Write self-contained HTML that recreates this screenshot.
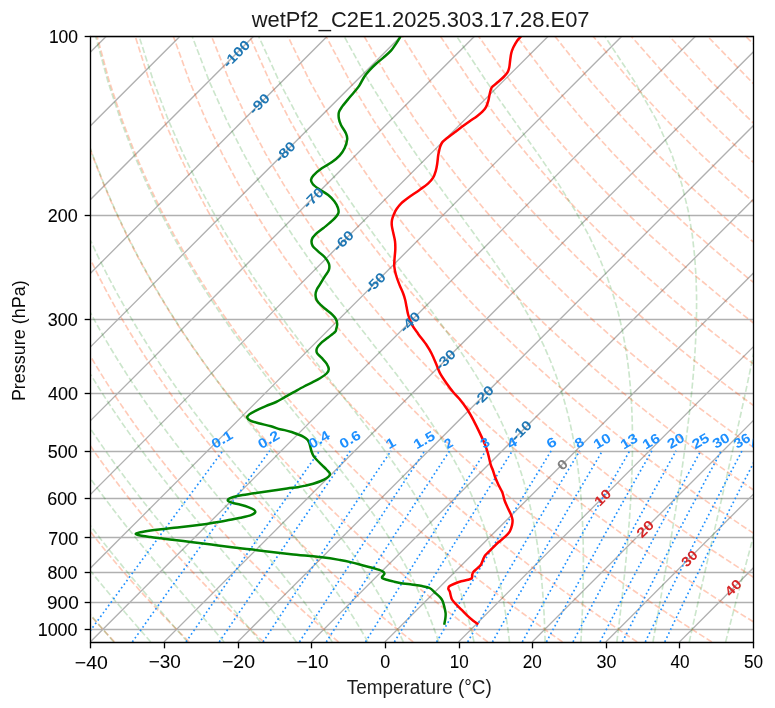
<!DOCTYPE html>
<html><head><meta charset="utf-8"><style>html,body{margin:0;padding:0;background:#fff;overflow:hidden}svg{display:block;will-change:transform}</style></head><body>
<svg width="775" height="708" viewBox="0 0 775 708">
<rect width="775" height="708" fill="#ffffff"/>
<defs><clipPath id="ax"><rect x="90.34" y="35.93" width="662.76" height="606.00"/></clipPath></defs>
<g clip-path="url(#ax)">
<line x1="90.34" y1="36.50" x2="753.10" y2="36.50" stroke="#b0b0b0" stroke-width="1.33"/>
<line x1="90.34" y1="215.50" x2="753.10" y2="215.50" stroke="#b0b0b0" stroke-width="1.33"/>
<line x1="90.34" y1="319.50" x2="753.10" y2="319.50" stroke="#b0b0b0" stroke-width="1.33"/>
<line x1="90.34" y1="393.50" x2="753.10" y2="393.50" stroke="#b0b0b0" stroke-width="1.33"/>
<line x1="90.34" y1="451.50" x2="753.10" y2="451.50" stroke="#b0b0b0" stroke-width="1.33"/>
<line x1="90.34" y1="498.50" x2="753.10" y2="498.50" stroke="#b0b0b0" stroke-width="1.33"/>
<line x1="90.34" y1="537.50" x2="753.10" y2="537.50" stroke="#b0b0b0" stroke-width="1.33"/>
<line x1="90.34" y1="572.50" x2="753.10" y2="572.50" stroke="#b0b0b0" stroke-width="1.33"/>
<line x1="90.34" y1="602.50" x2="753.10" y2="602.50" stroke="#b0b0b0" stroke-width="1.33"/>
<line x1="90.34" y1="629.50" x2="753.10" y2="629.50" stroke="#b0b0b0" stroke-width="1.33"/>
<line x1="-572.42" y1="641.93" x2="32.97" y2="35.93" stroke="#b0b0b0" stroke-width="1.33"/>
<line x1="-498.78" y1="641.93" x2="106.61" y2="35.93" stroke="#b0b0b0" stroke-width="1.33"/>
<line x1="-425.14" y1="641.93" x2="180.25" y2="35.93" stroke="#b0b0b0" stroke-width="1.33"/>
<line x1="-351.50" y1="641.93" x2="253.89" y2="35.93" stroke="#b0b0b0" stroke-width="1.33"/>
<line x1="-277.86" y1="641.93" x2="327.53" y2="35.93" stroke="#b0b0b0" stroke-width="1.33"/>
<line x1="-204.22" y1="641.93" x2="401.17" y2="35.93" stroke="#b0b0b0" stroke-width="1.33"/>
<line x1="-130.58" y1="641.93" x2="474.81" y2="35.93" stroke="#b0b0b0" stroke-width="1.33"/>
<line x1="-56.94" y1="641.93" x2="548.45" y2="35.93" stroke="#b0b0b0" stroke-width="1.33"/>
<line x1="16.70" y1="641.93" x2="622.09" y2="35.93" stroke="#b0b0b0" stroke-width="1.33"/>
<line x1="90.34" y1="641.93" x2="695.73" y2="35.93" stroke="#b0b0b0" stroke-width="1.33"/>
<line x1="163.98" y1="641.93" x2="769.37" y2="35.93" stroke="#b0b0b0" stroke-width="1.33"/>
<line x1="237.62" y1="641.93" x2="843.01" y2="35.93" stroke="#b0b0b0" stroke-width="1.33"/>
<line x1="311.26" y1="641.93" x2="916.65" y2="35.93" stroke="#b0b0b0" stroke-width="1.33"/>
<line x1="384.90" y1="641.93" x2="990.29" y2="35.93" stroke="#b0b0b0" stroke-width="1.33"/>
<line x1="458.54" y1="641.93" x2="1063.93" y2="35.93" stroke="#b0b0b0" stroke-width="1.33"/>
<line x1="532.18" y1="641.93" x2="1137.57" y2="35.93" stroke="#b0b0b0" stroke-width="1.33"/>
<line x1="605.82" y1="641.93" x2="1211.21" y2="35.93" stroke="#b0b0b0" stroke-width="1.33"/>
<line x1="679.46" y1="641.93" x2="1284.85" y2="35.93" stroke="#b0b0b0" stroke-width="1.33"/>
<line x1="753.10" y1="641.93" x2="1358.49" y2="35.93" stroke="#b0b0b0" stroke-width="1.33"/>
<path d="M114.44,641.93 L109.99,637.13 L105.51,632.23 L101.00,627.24 L96.44,622.16 L91.86,616.97 L87.23,611.67 L82.57,606.26 L77.87,600.74 L73.14,595.09 L68.36,589.32 L63.54,583.42 L58.69,577.38 L53.79,571.19 L48.85,564.85 L43.87,558.35 L38.84,551.68 L33.77,544.84 L28.66,537.81 L23.50,530.58 L18.29,523.14 L13.04,515.49 L7.74,507.59 L2.40,499.45 L-1.00,494.16" fill="none" stroke="#ff4500" stroke-opacity="0.28" stroke-width="1.67" stroke-dasharray="6.17 2.67"/>
<path d="M189.12,641.93 L184.27,637.13 L179.39,632.23 L174.46,627.24 L169.50,622.16 L164.49,616.97 L159.44,611.67 L154.35,606.26 L149.21,600.74 L144.03,595.09 L138.80,589.32 L133.53,583.42 L128.20,577.38 L122.83,571.19 L117.41,564.85 L111.93,558.35 L106.41,551.68 L100.82,544.84 L95.19,537.81 L89.50,530.58 L83.75,523.14 L77.95,515.49 L72.08,507.59 L66.16,499.45 L60.18,491.05 L54.13,482.35 L48.02,473.36 L41.85,464.04 L35.62,454.37 L29.32,444.33 L22.96,433.87 L16.53,422.98 L10.04,411.60 L3.50,399.70 L-1.00,391.20" fill="none" stroke="#ff4500" stroke-opacity="0.28" stroke-width="1.67" stroke-dasharray="6.17 2.67"/>
<path d="M263.79,641.93 L258.55,637.13 L253.26,632.23 L247.93,627.24 L242.55,622.16 L237.13,616.97 L231.65,611.67 L226.13,606.26 L220.55,600.74 L214.93,595.09 L209.25,589.32 L203.51,583.42 L197.72,577.38 L191.87,571.19 L185.96,564.85 L180.00,558.35 L173.97,551.68 L167.88,544.84 L161.72,537.81 L155.50,530.58 L149.21,523.14 L142.85,515.49 L136.42,507.59 L129.92,499.45 L123.35,491.05 L116.70,482.35 L109.97,473.36 L103.16,464.04 L96.27,454.37 L89.30,444.33 L82.25,433.87 L75.11,422.98 L67.89,411.60 L60.59,399.70 L53.20,387.22 L45.73,374.11 L38.18,360.29 L30.55,345.69 L22.86,330.22 L15.10,313.75 L7.30,296.16 L-0.52,277.28 L-1.00,276.04" fill="none" stroke="#ff4500" stroke-opacity="0.28" stroke-width="1.67" stroke-dasharray="6.17 2.67"/>
<path d="M338.46,641.93 L332.83,637.13 L327.14,632.23 L321.40,627.24 L315.61,622.16 L309.76,616.97 L303.86,611.67 L297.91,606.26 L291.89,600.74 L285.82,595.09 L279.69,589.32 L273.49,583.42 L267.24,577.38 L260.91,571.19 L254.52,564.85 L248.06,558.35 L241.53,551.68 L234.93,544.84 L228.26,537.81 L221.50,530.58 L214.67,523.14 L207.76,515.49 L200.77,507.59 L193.69,499.45 L186.52,491.05 L179.26,482.35 L171.91,473.36 L164.47,464.04 L156.92,454.37 L149.28,444.33 L141.54,433.87 L133.69,422.98 L125.74,411.60 L117.67,399.70 L109.50,387.22 L101.22,374.11 L92.82,360.29 L84.32,345.69 L75.71,330.22 L67.00,313.75 L58.20,296.16 L49.32,277.28 L40.38,256.91 L31.42,234.79 L22.47,210.59 L13.61,183.88 L4.95,154.08 L-1.00,129.90" fill="none" stroke="#ff4500" stroke-opacity="0.28" stroke-width="1.67" stroke-dasharray="6.17 2.67"/>
<path d="M413.14,641.93 L407.10,637.13 L401.01,632.23 L394.87,627.24 L388.66,622.16 L382.40,616.97 L376.07,611.67 L369.69,606.26 L363.23,600.74 L356.72,595.09 L350.13,589.32 L343.48,583.42 L336.75,577.38 L329.95,571.19 L323.08,564.85 L316.13,558.35 L309.10,551.68 L301.99,544.84 L294.79,537.81 L287.50,530.58 L280.13,523.14 L272.67,515.49 L265.11,507.59 L257.45,499.45 L249.69,491.05 L241.83,482.35 L233.86,473.36 L225.78,464.04 L217.58,454.37 L209.27,444.33 L200.83,433.87 L192.27,422.98 L183.58,411.60 L174.76,399.70 L165.80,387.22 L156.71,374.11 L147.47,360.29 L138.09,345.69 L128.57,330.22 L118.90,313.75 L109.10,296.16 L99.16,277.28 L89.11,256.91 L78.97,234.79 L68.76,210.59 L58.55,183.88 L48.43,154.08 L38.54,120.38 L29.14,81.60 L20.66,35.93" fill="none" stroke="#ff4500" stroke-opacity="0.28" stroke-width="1.67" stroke-dasharray="6.17 2.67"/>
<path d="M487.81,641.93 L481.38,637.13 L474.89,632.23 L468.33,627.24 L461.72,622.16 L455.03,616.97 L448.28,611.67 L441.46,606.26 L434.58,600.74 L427.61,595.09 L420.58,589.32 L413.46,583.42 L406.27,577.38 L399.00,571.19 L391.64,564.85 L384.19,558.35 L376.66,551.68 L369.04,544.84 L361.32,537.81 L353.51,530.58 L345.59,523.14 L337.57,515.49 L329.45,507.59 L321.21,499.45 L312.86,491.05 L304.39,482.35 L295.80,473.36 L287.08,464.04 L278.23,454.37 L269.25,444.33 L260.12,433.87 L250.85,422.98 L241.43,411.60 L231.85,399.70 L222.11,387.22 L212.20,374.11 L202.12,360.29 L191.86,345.69 L181.42,330.22 L170.80,313.75 L160.00,296.16 L149.01,277.28 L137.84,256.91 L126.52,234.79 L115.05,210.59 L103.49,183.88 L91.91,154.08 L80.43,120.38 L69.26,81.60 L58.80,35.93" fill="none" stroke="#ff4500" stroke-opacity="0.28" stroke-width="1.67" stroke-dasharray="6.17 2.67"/>
<path d="M562.48,641.93 L555.66,637.13 L548.76,632.23 L541.80,627.24 L534.77,622.16 L527.67,616.97 L520.49,611.67 L513.24,606.26 L505.92,600.74 L498.51,595.09 L491.02,589.32 L483.45,583.42 L475.79,577.38 L468.04,571.19 L460.20,564.85 L452.26,558.35 L444.23,551.68 L436.09,544.84 L427.85,537.81 L419.51,530.58 L411.05,523.14 L402.48,515.49 L393.79,507.59 L384.98,499.45 L376.03,491.05 L366.96,482.35 L357.75,473.36 L348.39,464.04 L338.89,454.37 L329.23,444.33 L319.42,433.87 L309.43,422.98 L299.27,411.60 L288.94,399.70 L278.41,387.22 L267.69,374.11 L256.77,360.29 L245.63,345.69 L234.28,330.22 L222.70,313.75 L210.89,296.16 L198.85,277.28 L186.57,256.91 L174.06,234.79 L161.34,210.59 L148.43,183.88 L135.39,154.08 L122.31,120.38 L109.38,81.60 L96.94,35.93" fill="none" stroke="#ff4500" stroke-opacity="0.28" stroke-width="1.67" stroke-dasharray="6.17 2.67"/>
<path d="M637.16,641.93 L629.93,637.13 L622.64,632.23 L615.27,627.24 L607.83,622.16 L600.30,616.97 L592.70,611.67 L585.02,606.26 L577.26,600.74 L569.40,595.09 L561.46,589.32 L553.43,583.42 L545.30,577.38 L537.08,571.19 L528.75,564.85 L520.33,558.35 L511.79,551.68 L503.15,544.84 L494.39,537.81 L485.51,530.58 L476.51,523.14 L467.39,515.49 L458.13,507.59 L448.74,499.45 L439.20,491.05 L429.52,482.35 L419.69,473.36 L409.70,464.04 L399.54,454.37 L389.22,444.33 L378.71,433.87 L368.01,422.98 L357.12,411.60 L346.02,399.70 L334.71,387.22 L323.18,374.11 L311.41,360.29 L299.40,345.69 L287.13,330.22 L274.60,313.75 L261.79,296.16 L248.69,277.28 L235.30,256.91 L221.61,234.79 L207.63,210.59 L193.37,183.88 L178.87,154.08 L164.20,120.38 L149.51,81.60 L135.08,35.93" fill="none" stroke="#ff4500" stroke-opacity="0.28" stroke-width="1.67" stroke-dasharray="6.17 2.67"/>
<path d="M711.83,641.93 L704.21,637.13 L696.51,632.23 L688.74,627.24 L680.88,622.16 L672.94,616.97 L664.91,611.67 L656.80,606.26 L648.60,600.74 L640.30,595.09 L631.90,589.32 L623.41,583.42 L614.82,577.38 L606.12,571.19 L597.31,564.85 L588.39,558.35 L579.36,551.68 L570.20,544.84 L560.92,537.81 L551.51,530.58 L541.97,523.14 L532.29,515.49 L522.47,507.59 L512.50,499.45 L502.38,491.05 L492.09,482.35 L481.64,473.36 L471.01,464.04 L460.20,454.37 L449.20,444.33 L438.00,433.87 L426.59,422.98 L414.97,411.60 L403.11,399.70 L391.02,387.22 L378.67,374.11 L366.06,360.29 L353.17,345.69 L339.99,330.22 L326.50,313.75 L312.69,296.16 L298.54,277.28 L284.03,256.91 L269.16,234.79 L253.92,210.59 L238.31,183.88 L222.35,154.08 L206.08,120.38 L189.63,81.60 L173.22,35.93" fill="none" stroke="#ff4500" stroke-opacity="0.28" stroke-width="1.67" stroke-dasharray="6.17 2.67"/>
<path d="M776.00,635.62 L770.39,632.23 L762.21,627.24 L753.94,622.16 L745.58,616.97 L737.12,611.67 L728.58,606.26 L719.94,600.74 L711.19,595.09 L702.35,589.32 L693.40,583.42 L684.33,577.38 L675.16,571.19 L665.87,564.85 L656.46,558.35 L646.92,551.68 L637.25,544.84 L627.45,537.81 L617.51,530.58 L607.43,523.14 L597.20,515.49 L586.81,507.59 L576.26,499.45 L565.55,491.05 L554.66,482.35 L543.58,473.36 L532.32,464.04 L520.85,454.37 L509.18,444.33 L497.29,433.87 L485.17,422.98 L472.81,411.60 L460.20,399.70 L447.32,387.22 L434.16,374.11 L420.71,360.29 L406.94,345.69 L392.84,330.22 L378.40,313.75 L363.58,296.16 L348.38,277.28 L332.76,256.91 L316.71,234.79 L300.21,210.59 L283.25,183.88 L265.83,154.08 L247.97,120.38 L229.75,81.60 L211.36,35.93" fill="none" stroke="#ff4500" stroke-opacity="0.28" stroke-width="1.67" stroke-dasharray="6.17 2.67"/>
<path d="M776.00,591.31 L772.79,589.32 L763.38,583.42 L753.85,577.38 L744.20,571.19 L734.43,564.85 L724.52,558.35 L714.48,551.68 L704.31,544.84 L693.99,537.81 L683.52,530.58 L672.89,523.14 L662.11,515.49 L651.15,507.59 L640.03,499.45 L628.72,491.05 L617.22,482.35 L605.53,473.36 L593.63,464.04 L581.51,454.37 L569.16,444.33 L556.58,433.87 L543.75,422.98 L530.66,411.60 L517.29,399.70 L503.62,387.22 L489.65,374.11 L475.36,360.29 L460.71,345.69 L445.70,330.22 L430.30,313.75 L414.48,296.16 L398.22,277.28 L381.49,256.91 L364.26,234.79 L346.50,210.59 L328.19,183.88 L309.31,154.08 L289.85,120.38 L269.87,81.60 L249.51,35.93" fill="none" stroke="#ff4500" stroke-opacity="0.28" stroke-width="1.67" stroke-dasharray="6.17 2.67"/>
<path d="M776.00,547.81 L771.36,544.84 L760.52,537.81 L749.52,530.58 L738.35,523.14 L727.01,515.49 L715.50,507.59 L703.79,499.45 L691.89,491.05 L679.79,482.35 L667.47,473.36 L654.93,464.04 L642.16,454.37 L629.15,444.33 L615.87,433.87 L602.33,422.98 L588.50,411.60 L574.37,399.70 L559.93,387.22 L545.14,374.11 L530.00,360.29 L514.48,345.69 L498.55,330.22 L482.20,313.75 L465.38,296.16 L448.06,277.28 L430.22,256.91 L411.81,234.79 L392.80,210.59 L373.13,183.88 L352.79,154.08 L331.74,120.38 L310.00,81.60 L287.65,35.93" fill="none" stroke="#ff4500" stroke-opacity="0.28" stroke-width="1.67" stroke-dasharray="6.17 2.67"/>
<path d="M776.00,505.05 L767.55,499.45 L755.06,491.05 L742.35,482.35 L729.42,473.36 L716.24,464.04 L702.82,454.37 L689.13,444.33 L675.17,433.87 L660.91,422.98 L646.35,411.60 L631.46,399.70 L616.23,387.22 L600.63,374.11 L584.65,360.29 L568.25,345.69 L551.41,330.22 L534.10,313.75 L516.27,296.16 L497.91,277.28 L478.95,256.91 L459.36,234.79 L439.09,210.59 L418.07,183.88 L396.27,154.08 L373.62,120.38 L350.12,81.60 L325.79,35.93" fill="none" stroke="#ff4500" stroke-opacity="0.28" stroke-width="1.67" stroke-dasharray="6.17 2.67"/>
<path d="M776.00,462.98 L763.47,454.37 L749.11,444.33 L734.46,433.87 L719.49,422.98 L704.20,411.60 L688.55,399.70 L672.53,387.22 L656.13,374.11 L639.30,360.29 L622.02,345.69 L604.27,330.22 L586.00,313.75 L567.17,296.16 L547.75,277.28 L527.68,256.91 L506.91,234.79 L485.38,210.59 L463.01,183.88 L439.75,154.08 L415.51,120.38 L390.24,81.60 L363.93,35.93" fill="none" stroke="#ff4500" stroke-opacity="0.28" stroke-width="1.67" stroke-dasharray="6.17 2.67"/>
<path d="M776.00,421.51 L762.04,411.60 L745.64,399.70 L728.84,387.22 L711.62,374.11 L693.94,360.29 L675.79,345.69 L657.12,330.22 L637.89,313.75 L618.07,296.16 L597.59,277.28 L576.41,256.91 L554.46,234.79 L531.67,210.59 L507.95,183.88 L483.23,154.08 L457.39,120.38 L430.36,81.60 L402.07,35.93" fill="none" stroke="#ff4500" stroke-opacity="0.28" stroke-width="1.67" stroke-dasharray="6.17 2.67"/>
<path d="M776.00,380.57 L767.11,374.11 L748.59,360.29 L729.56,345.69 L709.98,330.22 L689.79,313.75 L668.97,296.16 L647.44,277.28 L625.14,256.91 L602.01,234.79 L577.96,210.59 L552.89,183.88 L526.71,154.08 L499.28,120.38 L470.49,81.60 L440.21,35.93" fill="none" stroke="#ff4500" stroke-opacity="0.28" stroke-width="1.67" stroke-dasharray="6.17 2.67"/>
<path d="M776.00,340.16 L762.83,330.22 L741.69,313.75 L719.86,296.16 L697.28,277.28 L673.87,256.91 L649.56,234.79 L624.25,210.59 L597.83,183.88 L570.19,154.08 L541.17,120.38 L510.61,81.60 L478.36,35.93" fill="none" stroke="#ff4500" stroke-opacity="0.28" stroke-width="1.67" stroke-dasharray="6.17 2.67"/>
<path d="M776.00,300.20 L770.76,296.16 L747.12,277.28 L722.60,256.91 L697.11,234.79 L670.54,210.59 L642.77,183.88 L613.67,154.08 L583.05,120.38 L550.73,81.60 L516.50,35.93" fill="none" stroke="#ff4500" stroke-opacity="0.28" stroke-width="1.67" stroke-dasharray="6.17 2.67"/>
<path d="M776.00,260.62 L771.33,256.91 L744.66,234.79 L716.83,210.59 L687.71,183.88 L657.15,154.08 L624.94,120.38 L590.85,81.60 L554.64,35.93" fill="none" stroke="#ff4500" stroke-opacity="0.28" stroke-width="1.67" stroke-dasharray="6.17 2.67"/>
<path d="M776.00,221.31 L763.12,210.59 L732.65,183.88 L700.63,154.08 L666.82,120.38 L630.98,81.60 L592.78,35.93" fill="none" stroke="#ff4500" stroke-opacity="0.28" stroke-width="1.67" stroke-dasharray="6.17 2.67"/>
<path d="M776.00,182.47 L744.11,154.08 L708.71,120.38 L671.10,81.60 L630.92,35.93" fill="none" stroke="#ff4500" stroke-opacity="0.28" stroke-width="1.67" stroke-dasharray="6.17 2.67"/>
<path d="M776.00,143.53 L750.59,120.38 L711.22,81.60 L669.06,35.93" fill="none" stroke="#ff4500" stroke-opacity="0.28" stroke-width="1.67" stroke-dasharray="6.17 2.67"/>
<path d="M776.00,104.85 L751.34,81.60 L707.21,35.93" fill="none" stroke="#ff4500" stroke-opacity="0.28" stroke-width="1.67" stroke-dasharray="6.17 2.67"/>
<path d="M776.00,66.28 L745.35,35.93" fill="none" stroke="#ff4500" stroke-opacity="0.28" stroke-width="1.67" stroke-dasharray="6.17 2.67"/>
<path d="M0,0" fill="none" stroke="#ff4500" stroke-opacity="0.28" stroke-width="1.67" stroke-dasharray="6.17 2.67"/>
<path d="M0,0" fill="none" stroke="#ff4500" stroke-opacity="0.28" stroke-width="1.67" stroke-dasharray="6.17 2.67"/>
<path d="M0,0" fill="none" stroke="#ff4500" stroke-opacity="0.28" stroke-width="1.67" stroke-dasharray="6.17 2.67"/>
<path d="M0,0" fill="none" stroke="#ff4500" stroke-opacity="0.28" stroke-width="1.67" stroke-dasharray="6.17 2.67"/>
<path d="M0,0" fill="none" stroke="#ff4500" stroke-opacity="0.28" stroke-width="1.67" stroke-dasharray="6.17 2.67"/>
<path d="M0,0" fill="none" stroke="#ff4500" stroke-opacity="0.28" stroke-width="1.67" stroke-dasharray="6.17 2.67"/>
<path d="M113.78,641.93 L109.61,637.13 L105.38,632.23 L101.09,627.24 L96.75,622.16 L92.36,616.97 L87.91,611.67 L83.40,606.26 L78.85,600.74 L74.23,595.09 L69.57,589.32 L64.85,583.42 L60.08,577.38 L55.26,571.19 L50.38,564.85 L45.46,558.35 L40.48,551.68 L35.44,544.84 L30.36,537.81 L25.22,530.58 L20.03,523.14 L14.79,515.49 L9.50,507.59 L4.16,499.45 L-1.00,491.41" fill="none" stroke="#008000" stroke-opacity="0.2" stroke-width="1.67" stroke-dasharray="6.17 2.67"/>
<path d="M150.73,641.93 L146.52,637.13 L142.23,632.23 L137.88,627.24 L133.46,622.16 L128.98,616.97 L124.42,611.67 L119.80,606.26 L115.12,600.74 L110.37,595.09 L105.55,589.32 L100.67,583.42 L95.73,577.38 L90.72,571.19 L85.65,564.85 L80.51,558.35 L75.32,551.68 L70.06,544.84 L64.74,537.81 L59.36,530.58 L53.91,523.14 L48.41,515.49 L42.84,507.59 L37.22,499.45 L31.53,491.05 L25.78,482.35 L19.97,473.36 L14.10,464.04 L8.18,454.37 L2.19,444.33 L-1.00,438.80" fill="none" stroke="#008000" stroke-opacity="0.2" stroke-width="1.67" stroke-dasharray="6.17 2.67"/>
<path d="M187.52,641.93 L183.33,637.13 L179.05,632.23 L174.70,627.24 L170.26,622.16 L165.74,616.97 L161.14,611.67 L156.45,606.26 L151.69,600.74 L146.84,595.09 L141.92,589.32 L136.92,583.42 L131.83,577.38 L126.67,571.19 L121.44,564.85 L116.12,558.35 L110.73,551.68 L105.27,544.84 L99.73,537.81 L94.12,530.58 L88.43,523.14 L82.67,515.49 L76.84,507.59 L70.93,499.45 L64.96,491.05 L58.91,482.35 L52.79,473.36 L46.59,464.04 L40.33,454.37 L34.00,444.33 L27.60,433.87 L21.13,422.98 L14.59,411.60 L7.99,399.70 L1.33,387.22 L-1.00,382.67" fill="none" stroke="#008000" stroke-opacity="0.2" stroke-width="1.67" stroke-dasharray="6.17 2.67"/>
<path d="M224.09,641.93 L220.01,637.13 L215.83,632.23 L211.55,627.24 L207.17,622.16 L202.69,616.97 L198.12,611.67 L193.44,606.26 L188.67,600.74 L183.79,595.09 L178.82,589.32 L173.75,583.42 L168.59,577.38 L163.32,571.19 L157.97,564.85 L152.51,558.35 L146.97,551.68 L141.33,544.84 L135.60,537.81 L129.78,530.58 L123.87,523.14 L117.87,515.49 L111.79,507.59 L105.62,499.45 L99.36,491.05 L93.01,482.35 L86.58,473.36 L80.06,464.04 L73.46,454.37 L66.78,444.33 L60.01,433.87 L53.16,422.98 L46.23,411.60 L39.23,399.70 L32.14,387.22 L24.98,374.11 L17.75,360.29 L10.45,345.69 L3.10,330.22 L-1.00,321.08" fill="none" stroke="#008000" stroke-opacity="0.2" stroke-width="1.67" stroke-dasharray="6.17 2.67"/>
<path d="M260.41,641.93 L256.53,637.13 L252.54,632.23 L248.44,627.24 L244.22,622.16 L239.88,616.97 L235.43,611.67 L230.85,606.26 L226.16,600.74 L221.35,595.09 L216.42,589.32 L211.36,583.42 L206.19,577.38 L200.90,571.19 L195.49,564.85 L189.96,558.35 L184.32,551.68 L178.56,544.84 L172.69,537.81 L166.71,530.58 L160.61,523.14 L154.41,515.49 L148.09,507.59 L141.67,499.45 L135.15,491.05 L128.52,482.35 L121.79,473.36 L114.95,464.04 L108.01,454.37 L100.98,444.33 L93.84,433.87 L86.60,422.98 L79.27,411.60 L71.84,399.70 L64.31,387.22 L56.69,374.11 L48.98,360.29 L41.19,345.69 L33.32,330.22 L25.38,313.75 L17.38,296.16 L9.35,277.28 L1.30,256.91 L-1.00,250.56" fill="none" stroke="#008000" stroke-opacity="0.2" stroke-width="1.67" stroke-dasharray="6.17 2.67"/>
<path d="M296.46,641.93 L292.89,637.13 L289.20,632.23 L285.38,627.24 L281.43,622.16 L277.34,616.97 L273.13,611.67 L268.77,606.26 L264.28,600.74 L259.64,595.09 L254.86,589.32 L249.94,583.42 L244.87,577.38 L239.65,571.19 L234.29,564.85 L228.79,558.35 L223.14,551.68 L217.34,544.84 L211.41,537.81 L205.33,530.58 L199.11,523.14 L192.76,515.49 L186.27,507.59 L179.64,499.45 L172.88,491.05 L165.99,482.35 L158.98,473.36 L151.83,464.04 L144.57,454.37 L137.18,444.33 L129.67,433.87 L122.03,422.98 L114.28,411.60 L106.41,399.70 L98.43,387.22 L90.33,374.11 L82.12,360.29 L73.80,345.69 L65.38,330.22 L56.86,313.75 L48.26,296.16 L39.59,277.28 L30.87,256.91 L22.13,234.79 L13.43,210.59 L4.84,183.88 L-1.00,163.12" fill="none" stroke="#008000" stroke-opacity="0.2" stroke-width="1.67" stroke-dasharray="6.17 2.67"/>
<path d="M332.26,641.93 L329.09,637.13 L325.79,632.23 L322.36,627.24 L318.79,622.16 L315.09,616.97 L311.23,611.67 L307.23,606.26 L303.07,600.74 L298.75,595.09 L294.26,589.32 L289.61,583.42 L284.79,577.38 L279.80,571.19 L274.64,564.85 L269.29,558.35 L263.77,551.68 L258.07,544.84 L252.19,537.81 L246.13,530.58 L239.90,523.14 L233.49,515.49 L226.90,507.59 L220.15,499.45 L213.22,491.05 L206.13,482.35 L198.88,473.36 L191.46,464.04 L183.89,454.37 L176.16,444.33 L168.28,433.87 L160.25,422.98 L152.08,411.60 L143.76,399.70 L135.29,387.22 L126.69,374.11 L117.94,360.29 L109.06,345.69 L100.05,330.22 L90.91,313.75 L81.66,296.16 L72.29,277.28 L62.84,256.91 L53.34,234.79 L43.81,210.59 L34.33,183.88 L25.00,154.08 L15.97,120.38 L7.51,81.60 L0.10,35.93" fill="none" stroke="#008000" stroke-opacity="0.2" stroke-width="1.67" stroke-dasharray="6.17 2.67"/>
<path d="M367.84,641.93 L365.15,637.13 L362.33,632.23 L359.39,627.24 L356.31,622.16 L353.09,616.97 L349.72,611.67 L346.20,606.26 L342.51,600.74 L338.66,595.09 L334.64,589.32 L330.43,583.42 L326.03,577.38 L321.45,571.19 L316.66,564.85 L311.66,558.35 L306.46,551.68 L301.04,544.84 L295.40,537.81 L289.54,530.58 L283.47,523.14 L277.16,515.49 L270.64,507.59 L263.89,499.45 L256.93,491.05 L249.75,482.35 L242.35,473.36 L234.74,464.04 L226.93,454.37 L218.91,444.33 L210.70,433.87 L202.29,422.98 L193.70,411.60 L184.92,399.70 L175.96,387.22 L166.82,374.11 L157.50,360.29 L148.02,345.69 L138.36,330.22 L128.55,313.75 L118.57,296.16 L108.45,277.28 L98.20,256.91 L87.84,234.79 L77.40,210.59 L66.94,183.88 L56.54,154.08 L46.36,120.38 L36.63,81.60 L27.77,35.93" fill="none" stroke="#008000" stroke-opacity="0.2" stroke-width="1.67" stroke-dasharray="6.17 2.67"/>
<path d="M403.27,641.93 L401.11,637.13 L398.83,632.23 L396.44,627.24 L393.93,622.16 L391.29,616.97 L388.51,611.67 L385.58,606.26 L382.50,600.74 L379.26,595.09 L375.84,589.32 L372.25,583.42 L368.46,577.38 L364.47,571.19 L360.27,564.85 L355.85,558.35 L351.20,551.68 L346.30,544.84 L341.16,537.81 L335.76,530.58 L330.10,523.14 L324.16,515.49 L317.94,507.59 L311.45,499.45 L304.67,491.05 L297.61,482.35 L290.27,473.36 L282.64,464.04 L274.74,454.37 L266.56,444.33 L258.12,433.87 L249.41,422.98 L240.45,411.60 L231.24,399.70 L221.79,387.22 L212.11,374.11 L202.19,360.29 L192.06,345.69 L181.70,330.22 L171.14,313.75 L160.37,296.16 L149.40,277.28 L138.24,256.91 L126.91,234.79 L115.44,210.59 L103.87,183.88 L92.28,154.08 L80.78,120.38 L69.60,81.60 L59.12,35.93" fill="none" stroke="#008000" stroke-opacity="0.2" stroke-width="1.67" stroke-dasharray="6.17 2.67"/>
<path d="M438.64,641.93 L437.02,637.13 L435.31,632.23 L433.51,627.24 L431.61,622.16 L429.59,616.97 L427.46,611.67 L425.20,606.26 L422.81,600.74 L420.28,595.09 L417.59,589.32 L414.74,583.42 L411.72,577.38 L408.50,571.19 L405.09,564.85 L401.45,558.35 L397.60,551.68 L393.49,544.84 L389.13,537.81 L384.50,530.58 L379.58,523.14 L374.35,515.49 L368.80,507.59 L362.93,499.45 L356.71,491.05 L350.13,482.35 L343.20,473.36 L335.89,464.04 L328.21,454.37 L320.16,444.33 L311.74,433.87 L302.95,422.98 L293.80,411.60 L284.30,399.70 L274.46,387.22 L264.29,374.11 L253.80,360.29 L243.00,345.69 L231.90,330.22 L220.52,313.75 L208.86,296.16 L196.92,277.28 L184.73,256.91 L172.29,234.79 L159.63,210.59 L146.78,183.88 L133.79,154.08 L120.78,120.38 L107.91,81.60 L95.54,35.93" fill="none" stroke="#008000" stroke-opacity="0.2" stroke-width="1.67" stroke-dasharray="6.17 2.67"/>
<path d="M474.02,641.93 L472.94,637.13 L471.80,632.23 L470.58,627.24 L469.28,622.16 L467.90,616.97 L466.44,611.67 L464.87,606.26 L463.20,600.74 L461.42,595.09 L459.51,589.32 L457.47,583.42 L455.29,577.38 L452.95,571.19 L450.45,564.85 L447.76,558.35 L444.87,551.68 L441.77,544.84 L438.44,537.81 L434.85,530.58 L430.99,523.14 L426.83,515.49 L422.36,507.59 L417.54,499.45 L412.36,491.05 L406.78,482.35 L400.78,473.36 L394.35,464.04 L387.46,454.37 L380.08,444.33 L372.21,433.87 L363.83,422.98 L354.95,411.60 L345.55,399.70 L335.65,387.22 L325.26,374.11 L314.38,360.29 L303.04,345.69 L291.26,330.22 L279.05,313.75 L266.44,296.16 L253.44,277.28 L240.07,256.91 L226.34,234.79 L212.28,210.59 L197.91,183.88 L183.27,154.08 L168.44,120.38 L153.57,81.60 L138.94,35.93" fill="none" stroke="#008000" stroke-opacity="0.2" stroke-width="1.67" stroke-dasharray="6.17 2.67"/>
<path d="M509.50,641.93 L508.92,637.13 L508.30,632.23 L507.63,627.24 L506.91,622.16 L506.14,616.97 L505.30,611.67 L504.39,606.26 L503.42,600.74 L502.36,595.09 L501.22,589.32 L499.98,583.42 L498.65,577.38 L497.20,571.19 L495.63,564.85 L493.92,558.35 L492.07,551.68 L490.05,544.84 L487.86,537.81 L485.47,530.58 L482.85,523.14 L480.00,515.49 L476.89,507.59 L473.48,499.45 L469.74,491.05 L465.65,482.35 L461.16,473.36 L456.23,464.04 L450.84,454.37 L444.92,444.33 L438.44,433.87 L431.35,422.98 L423.61,411.60 L415.19,399.70 L406.06,387.22 L396.20,374.11 L385.61,360.29 L374.27,345.69 L362.22,330.22 L349.48,313.75 L336.07,296.16 L322.04,277.28 L307.42,256.91 L292.25,234.79 L276.55,210.59 L260.37,183.88 L243.73,154.08 L226.70,120.38 L209.38,81.60 L192.00,35.93" fill="none" stroke="#008000" stroke-opacity="0.2" stroke-width="1.67" stroke-dasharray="6.17 2.67"/>
<path d="M545.12,641.93 L544.99,637.13 L544.84,632.23 L544.66,627.24 L544.46,622.16 L544.22,616.97 L543.95,611.67 L543.64,606.26 L543.29,600.74 L542.89,595.09 L542.45,589.32 L541.94,583.42 L541.38,577.38 L540.75,571.19 L540.04,564.85 L539.25,558.35 L538.37,551.68 L537.39,544.84 L536.29,537.81 L535.06,530.58 L533.69,523.14 L532.16,515.49 L530.45,507.59 L528.54,499.45 L526.40,491.05 L524.00,482.35 L521.30,473.36 L518.28,464.04 L514.87,454.37 L511.04,444.33 L506.72,433.87 L501.85,422.98 L496.35,411.60 L490.15,399.70 L483.16,387.22 L475.29,374.11 L466.46,360.29 L456.60,345.69 L445.63,330.22 L433.54,313.75 L420.29,296.16 L405.93,277.28 L390.49,256.91 L374.04,234.79 L356.66,210.59 L338.42,183.88 L319.41,154.08 L299.68,120.38 L279.32,81.60 L258.50,35.93" fill="none" stroke="#008000" stroke-opacity="0.2" stroke-width="1.67" stroke-dasharray="6.17 2.67"/>
<path d="M580.90,641.93 L581.16,637.13 L581.42,632.23 L581.66,627.24 L581.90,622.16 L582.13,616.97 L582.34,611.67 L582.54,606.26 L582.73,600.74 L582.90,595.09 L583.04,589.32 L583.16,583.42 L583.26,577.38 L583.33,571.19 L583.36,564.85 L583.35,558.35 L583.31,551.68 L583.21,544.84 L583.06,537.81 L582.84,530.58 L582.55,523.14 L582.18,515.49 L581.72,507.59 L581.14,499.45 L580.45,491.05 L579.61,482.35 L578.60,473.36 L577.41,464.04 L575.99,454.37 L574.31,444.33 L572.33,433.87 L569.99,422.98 L567.23,411.60 L563.97,399.70 L560.12,387.22 L555.57,374.11 L550.19,360.29 L543.82,345.69 L536.30,330.22 L527.43,313.75 L517.01,296.16 L504.87,277.28 L490.85,256.91 L474.90,234.79 L457.02,210.59 L437.32,183.88 L415.98,154.08 L393.19,120.38 L369.11,81.60 L343.93,35.93" fill="none" stroke="#008000" stroke-opacity="0.2" stroke-width="1.67" stroke-dasharray="6.17 2.67"/>
<path d="M616.85,641.93 L617.44,637.13 L618.04,632.23 L618.63,627.24 L619.24,622.16 L619.85,616.97 L620.47,611.67 L621.09,606.26 L621.71,600.74 L622.34,595.09 L622.97,589.32 L623.60,583.42 L624.23,577.38 L624.86,571.19 L625.49,564.85 L626.12,558.35 L626.74,551.68 L627.36,544.84 L627.96,537.81 L628.55,530.58 L629.13,523.14 L629.68,515.49 L630.21,507.59 L630.70,499.45 L631.16,491.05 L631.57,482.35 L631.92,473.36 L632.20,464.04 L632.40,454.37 L632.49,444.33 L632.46,433.87 L632.27,422.98 L631.89,411.60 L631.29,399.70 L630.40,387.22 L629.16,374.11 L627.48,360.29 L625.25,345.69 L622.33,330.22 L618.52,313.75 L613.59,296.16 L607.22,277.28 L599.01,256.91 L588.49,234.79 L575.12,210.59 L558.40,183.88 L538.02,154.08 L513.96,120.38 L486.56,81.60 L456.36,35.93" fill="none" stroke="#008000" stroke-opacity="0.2" stroke-width="1.67" stroke-dasharray="6.17 2.67"/>
<path d="M652.98,641.93 L653.83,637.13 L654.69,632.23 L655.58,627.24 L656.48,622.16 L657.39,616.97 L658.33,611.67 L659.28,606.26 L660.25,600.74 L661.25,595.09 L662.26,589.32 L663.29,583.42 L664.34,577.38 L665.41,571.19 L666.51,564.85 L667.62,558.35 L668.76,551.68 L669.92,544.84 L671.10,537.81 L672.31,530.58 L673.53,523.14 L674.78,515.49 L676.06,507.59 L677.35,499.45 L678.66,491.05 L679.99,482.35 L681.34,473.36 L682.70,464.04 L684.08,454.37 L685.46,444.33 L686.83,433.87 L688.20,422.98 L689.56,411.60 L690.88,399.70 L692.15,387.22 L693.34,374.11 L694.43,360.29 L695.37,345.69 L696.10,330.22 L696.54,313.75 L696.58,296.16 L696.05,277.28 L694.73,256.91 L692.28,234.79 L688.18,210.59 L681.69,183.88 L671.69,154.08 L656.61,120.38 L634.66,81.60 L604.56,35.93" fill="none" stroke="#008000" stroke-opacity="0.2" stroke-width="1.67" stroke-dasharray="6.17 2.67"/>
<path d="M689.25,641.93 L690.30,637.13 L691.39,632.23 L692.49,627.24 L693.62,622.16 L694.78,616.97 L695.96,611.67 L697.17,606.26 L698.41,600.74 L699.68,595.09 L700.98,589.32 L702.32,583.42 L703.69,577.38 L705.10,571.19 L706.54,564.85 L708.02,558.35 L709.54,551.68 L711.11,544.84 L712.72,537.81 L714.37,530.58 L716.08,523.14 L717.83,515.49 L719.64,507.59 L721.51,499.45 L723.43,491.05 L725.42,482.35 L727.47,473.36 L729.59,464.04 L731.78,454.37 L734.04,444.33 L736.38,433.87 L738.81,422.98 L741.32,411.60 L743.92,399.70 L746.61,387.22 L749.39,374.11 L752.26,360.29 L755.23,345.69 L758.29,330.22 L761.42,313.75 L764.61,296.16 L767.84,277.28 L771.04,256.91 L774.14,234.79 L776.00,219.03 M776.00,76.50 L767.38,35.93" fill="none" stroke="#008000" stroke-opacity="0.2" stroke-width="1.67" stroke-dasharray="6.17 2.67"/>
<path d="M725.65,641.93 L726.87,637.13 L728.11,632.23 L729.38,627.24 L730.68,622.16 L732.02,616.97 L733.39,611.67 L734.79,606.26 L736.23,600.74 L737.71,595.09 L739.23,589.32 L740.79,583.42 L742.40,577.38 L744.05,571.19 L745.75,564.85 L747.49,558.35 L749.30,551.68 L751.15,544.84 L753.07,537.81 L755.05,530.58 L757.10,523.14 L759.21,515.49 L761.40,507.59 L763.67,499.45 L766.02,491.05 L768.45,482.35 L770.99,473.36 L773.62,464.04 L776.00,455.66" fill="none" stroke="#008000" stroke-opacity="0.2" stroke-width="1.67" stroke-dasharray="6.17 2.67"/>
<path d="M762.17,641.93 L763.50,637.13 L764.86,632.23 L766.25,627.24 L767.68,622.16 L769.15,616.97 L770.65,611.67 L772.20,606.26 L773.78,600.74 L775.41,595.09 L776.00,593.05" fill="none" stroke="#008000" stroke-opacity="0.2" stroke-width="1.67" stroke-dasharray="6.17 2.67"/>
<path d="M82.16,641.93 L85.57,637.23 L89.05,632.45 L92.60,627.57 L96.22,622.60 L99.92,617.54 L103.69,612.37 L107.54,607.09 L111.48,601.71 L115.50,596.21 L119.61,590.59 L123.82,584.84 L128.12,578.97 L132.53,572.96 L137.05,566.80 L141.68,560.49 L146.44,554.03 L151.32,547.39 L156.33,540.59 L161.48,533.60 L166.79,526.41 L172.25,519.02 L177.87,511.41 L183.67,503.56 L189.66,495.47 L195.85,487.12 L202.26,478.49 L208.89,469.56 L215.77,460.31 L222.92,450.72" fill="none" stroke="#1e90ff" stroke-width="1.67" stroke-dasharray="1.67 2.75"/>
<path d="M132.37,641.93 L135.70,637.23 L139.10,632.45 L142.56,627.57 L146.09,622.60 L149.69,617.54 L153.36,612.37 L157.12,607.09 L160.95,601.71 L164.87,596.21 L168.88,590.59 L172.99,584.84 L177.19,578.97 L181.49,572.96 L185.90,566.80 L190.42,560.49 L195.06,554.03 L199.82,547.39 L204.71,540.59 L209.74,533.60 L214.92,526.41 L220.25,519.02 L225.74,511.41 L231.41,503.56 L237.26,495.47 L243.31,487.12 L249.57,478.49 L256.05,469.56 L262.77,460.31 L269.75,450.72" fill="none" stroke="#1e90ff" stroke-width="1.67" stroke-dasharray="1.67 2.75"/>
<path d="M186.08,641.93 L189.31,637.23 L192.61,632.45 L195.97,627.57 L199.40,622.60 L202.90,617.54 L206.47,612.37 L210.11,607.09 L213.84,601.71 L217.65,596.21 L221.55,590.59 L225.54,584.84 L229.62,578.97 L233.80,572.96 L238.09,566.80 L242.49,560.49 L247.00,554.03 L251.63,547.39 L256.39,540.59 L261.29,533.60 L266.32,526.41 L271.51,519.02 L276.86,511.41 L282.37,503.56 L288.07,495.47 L293.96,487.12 L300.06,478.49 L306.37,469.56 L312.92,460.31 L319.73,450.72" fill="none" stroke="#1e90ff" stroke-width="1.67" stroke-dasharray="1.67 2.75"/>
<path d="M219.26,641.93 L222.43,637.23 L225.66,632.45 L228.96,627.57 L232.32,622.60 L235.76,617.54 L239.26,612.37 L242.84,607.09 L246.50,601.71 L250.24,596.21 L254.07,590.59 L257.98,584.84 L261.99,578.97 L266.10,572.96 L270.31,566.80 L274.62,560.49 L279.05,554.03 L283.60,547.39 L288.28,540.59 L293.09,533.60 L298.04,526.41 L303.14,519.02 L308.39,511.41 L313.81,503.56 L319.41,495.47 L325.20,487.12 L331.19,478.49 L337.40,469.56 L343.84,460.31 L350.54,450.72" fill="none" stroke="#1e90ff" stroke-width="1.67" stroke-dasharray="1.67 2.75"/>
<path d="M263.06,641.93 L266.15,637.23 L269.29,632.45 L272.51,627.57 L275.78,622.60 L279.13,617.54 L282.54,612.37 L286.03,607.09 L289.59,601.71 L293.24,596.21 L296.97,590.59 L300.79,584.84 L304.69,578.97 L308.70,572.96 L312.80,566.80 L317.02,560.49 L321.34,554.03 L325.78,547.39 L330.34,540.59 L335.03,533.60 L339.86,526.41 L344.84,519.02 L349.97,511.41 L355.26,503.56 L360.73,495.47 L366.38,487.12 L372.24,478.49 L378.30,469.56 L384.60,460.31 L391.14,450.72" fill="none" stroke="#1e90ff" stroke-width="1.67" stroke-dasharray="1.67 2.75"/>
<path d="M299.51,641.93 L302.53,637.23 L305.60,632.45 L308.74,627.57 L311.94,622.60 L315.21,617.54 L318.55,612.37 L321.96,607.09 L325.45,601.71 L329.01,596.21 L332.66,590.59 L336.39,584.84 L340.22,578.97 L344.13,572.96 L348.15,566.80 L352.27,560.49 L356.50,554.03 L360.84,547.39 L365.31,540.59 L369.90,533.60 L374.63,526.41 L379.50,519.02 L384.53,511.41 L389.71,503.56 L395.07,495.47 L400.61,487.12 L406.34,478.49 L412.29,469.56 L418.46,460.31 L424.87,450.72" fill="none" stroke="#1e90ff" stroke-width="1.67" stroke-dasharray="1.67 2.75"/>
<path d="M326.33,641.93 L329.29,637.23 L332.32,632.45 L335.40,627.57 L338.55,622.60 L341.76,617.54 L345.04,612.37 L348.39,607.09 L351.82,601.71 L355.32,596.21 L358.91,590.59 L362.58,584.84 L366.34,578.97 L370.19,572.96 L374.14,566.80 L378.19,560.49 L382.35,554.03 L386.63,547.39 L391.02,540.59 L395.54,533.60 L400.19,526.41 L404.99,519.02 L409.93,511.41 L415.03,503.56 L420.31,495.47 L425.76,487.12 L431.41,478.49 L437.26,469.56 L443.34,460.31 L449.65,450.72" fill="none" stroke="#1e90ff" stroke-width="1.67" stroke-dasharray="1.67 2.75"/>
<path d="M365.55,641.93 L368.43,637.23 L371.37,632.45 L374.38,627.57 L377.44,622.60 L380.57,617.54 L383.76,612.37 L387.03,607.09 L390.37,601.71 L393.78,596.21 L397.27,590.59 L400.85,584.84 L404.51,578.97 L408.27,572.96 L412.12,566.80 L416.07,560.49 L420.13,554.03 L424.30,547.39 L428.58,540.59 L432.99,533.60 L437.53,526.41 L442.21,519.02 L447.04,511.41 L452.02,503.56 L457.17,495.47 L462.49,487.12 L468.01,478.49 L473.73,469.56 L479.66,460.31 L485.83,450.72" fill="none" stroke="#1e90ff" stroke-width="1.67" stroke-dasharray="1.67 2.75"/>
<path d="M394.42,641.93 L397.24,637.23 L400.13,632.45 L403.07,627.57 L406.07,622.60 L409.13,617.54 L412.26,612.37 L415.46,607.09 L418.74,601.71 L422.08,596.21 L425.51,590.59 L429.01,584.84 L432.61,578.97 L436.29,572.96 L440.06,566.80 L443.94,560.49 L447.92,554.03 L452.01,547.39 L456.21,540.59 L460.54,533.60 L465.00,526.41 L469.59,519.02 L474.33,511.41 L479.22,503.56 L484.27,495.47 L489.50,487.12 L494.92,478.49 L500.54,469.56 L506.37,460.31 L512.43,450.72" fill="none" stroke="#1e90ff" stroke-width="1.67" stroke-dasharray="1.67 2.75"/>
<path d="M436.64,641.93 L439.38,637.23 L442.17,632.45 L445.02,627.57 L447.93,622.60 L450.90,617.54 L453.94,612.37 L457.04,607.09 L460.21,601.71 L463.46,596.21 L466.78,590.59 L470.18,584.84 L473.67,578.97 L477.24,572.96 L480.91,566.80 L484.67,560.49 L488.53,554.03 L492.50,547.39 L496.59,540.59 L500.79,533.60 L505.12,526.41 L509.59,519.02 L514.19,511.41 L518.95,503.56 L523.86,495.47 L528.95,487.12 L534.22,478.49 L539.69,469.56 L545.36,460.31 L551.27,450.72" fill="none" stroke="#1e90ff" stroke-width="1.67" stroke-dasharray="1.67 2.75"/>
<path d="M467.72,641.93 L470.39,637.23 L473.11,632.45 L475.89,627.57 L478.73,622.60 L481.63,617.54 L484.60,612.37 L487.63,607.09 L490.72,601.71 L493.89,596.21 L497.14,590.59 L500.46,584.84 L503.87,578.97 L507.36,572.96 L510.94,566.80 L514.62,560.49 L518.40,554.03 L522.28,547.39 L526.28,540.59 L530.39,533.60 L534.62,526.41 L538.99,519.02 L543.50,511.41 L548.15,503.56 L552.96,495.47 L557.95,487.12 L563.11,478.49 L568.46,469.56 L574.02,460.31 L579.80,450.72" fill="none" stroke="#1e90ff" stroke-width="1.67" stroke-dasharray="1.67 2.75"/>
<path d="M492.47,641.93 L495.09,637.23 L497.76,632.45 L500.49,627.57 L503.27,622.60 L506.11,617.54 L509.02,612.37 L511.99,607.09 L515.02,601.71 L518.13,596.21 L521.32,590.59 L524.58,584.84 L527.92,578.97 L531.35,572.96 L534.86,566.80 L538.47,560.49 L542.18,554.03 L545.99,547.39 L549.91,540.59 L553.95,533.60 L558.11,526.41 L562.40,519.02 L566.82,511.41 L571.40,503.56 L576.12,495.47 L581.02,487.12 L586.09,478.49 L591.35,469.56 L596.82,460.31 L602.50,450.72" fill="none" stroke="#1e90ff" stroke-width="1.67" stroke-dasharray="1.67 2.75"/>
<path d="M522.31,641.93 L524.86,637.23 L527.46,632.45 L530.12,627.57 L532.84,622.60 L535.61,617.54 L538.44,612.37 L541.34,607.09 L544.31,601.71 L547.34,596.21 L550.45,590.59 L553.63,584.84 L556.89,578.97 L560.24,572.96 L563.67,566.80 L567.20,560.49 L570.82,554.03 L574.55,547.39 L578.38,540.59 L582.32,533.60 L586.39,526.41 L590.58,519.02 L594.91,511.41 L599.39,503.56 L604.01,495.47 L608.80,487.12 L613.76,478.49 L618.91,469.56 L624.27,460.31 L629.83,450.72" fill="none" stroke="#1e90ff" stroke-width="1.67" stroke-dasharray="1.67 2.75"/>
<path d="M546.48,641.93 L548.97,637.23 L551.52,632.45 L554.13,627.57 L556.78,622.60 L559.50,617.54 L562.27,612.37 L565.11,607.09 L568.02,601.71 L570.99,596.21 L574.04,590.59 L577.15,584.84 L580.35,578.97 L583.63,572.96 L587.00,566.80 L590.46,560.49 L594.01,554.03 L597.66,547.39 L601.42,540.59 L605.29,533.60 L609.28,526.41 L613.40,519.02 L617.65,511.41 L622.04,503.56 L626.58,495.47 L631.28,487.12 L636.16,478.49 L641.22,469.56 L646.47,460.31 L651.94,450.72" fill="none" stroke="#1e90ff" stroke-width="1.67" stroke-dasharray="1.67 2.75"/>
<path d="M572.99,641.93 L575.42,637.23 L577.91,632.45 L580.45,627.57 L583.05,622.60 L585.70,617.54 L588.41,612.37 L591.18,607.09 L594.02,601.71 L596.93,596.21 L599.90,590.59 L602.95,584.84 L606.08,578.97 L609.28,572.96 L612.58,566.80 L615.96,560.49 L619.43,554.03 L623.00,547.39 L626.68,540.59 L630.47,533.60 L634.38,526.41 L638.41,519.02 L642.57,511.41 L646.86,503.56 L651.31,495.47 L655.92,487.12 L660.70,478.49 L665.65,469.56 L670.81,460.31 L676.17,450.72" fill="none" stroke="#1e90ff" stroke-width="1.67" stroke-dasharray="1.67 2.75"/>
<path d="M600.03,641.93 L602.41,637.23 L604.83,632.45 L607.31,627.57 L609.84,622.60 L612.43,617.54 L615.07,612.37 L617.78,607.09 L620.55,601.71 L623.38,596.21 L626.28,590.59 L629.26,584.84 L632.31,578.97 L635.44,572.96 L638.66,566.80 L641.96,560.49 L645.35,554.03 L648.84,547.39 L652.44,540.59 L656.14,533.60 L659.96,526.41 L663.90,519.02 L667.97,511.41 L672.17,503.56 L676.52,495.47 L681.03,487.12 L685.71,478.49 L690.56,469.56 L695.60,460.31 L700.86,450.72" fill="none" stroke="#1e90ff" stroke-width="1.67" stroke-dasharray="1.67 2.75"/>
<path d="M622.51,641.93 L624.83,637.23 L627.21,632.45 L629.63,627.57 L632.10,622.60 L634.64,617.54 L637.22,612.37 L639.87,607.09 L642.58,601.71 L645.36,596.21 L648.20,590.59 L651.11,584.84 L654.10,578.97 L657.17,572.96 L660.32,566.80 L663.56,560.49 L666.88,554.03 L670.31,547.39 L673.83,540.59 L677.46,533.60 L681.20,526.41 L685.07,519.02 L689.06,511.41 L693.19,503.56 L697.46,495.47 L701.88,487.12 L706.47,478.49 L711.23,469.56 L716.19,460.31 L721.35,450.72" fill="none" stroke="#1e90ff" stroke-width="1.67" stroke-dasharray="1.67 2.75"/>
<path d="M645.30,641.93 L647.57,637.23 L649.89,632.45 L652.26,627.57 L654.68,622.60 L657.15,617.54 L659.68,612.37 L662.27,607.09 L664.92,601.71 L667.63,596.21 L670.42,590.59 L673.27,584.84 L676.19,578.97 L679.19,572.96 L682.28,566.80 L685.45,560.49 L688.70,554.03 L692.06,547.39 L695.51,540.59 L699.07,533.60 L702.73,526.41 L706.52,519.02 L710.43,511.41 L714.48,503.56 L718.67,495.47 L723.00,487.12 L727.51,478.49 L732.18,469.56 L737.04,460.31 L742.11,450.72" fill="none" stroke="#1e90ff" stroke-width="1.67" stroke-dasharray="1.67 2.75"/>
<path d="M664.79,641.93 L667.02,637.23 L669.29,632.45 L671.61,627.57 L673.98,622.60 L676.40,617.54 L678.88,612.37 L681.42,607.09 L684.02,601.71 L686.68,596.21 L689.41,590.59 L692.21,584.84 L695.08,578.97 L698.02,572.96 L701.05,566.80 L704.16,560.49 L707.36,554.03 L710.65,547.39 L714.04,540.59 L717.53,533.60 L721.14,526.41 L724.86,519.02 L728.70,511.41 L732.67,503.56 L736.79,495.47 L741.06,487.12 L745.48,478.49 L750.08,469.56 L754.86,460.31 L759.84,450.72" fill="none" stroke="#1e90ff" stroke-width="1.67" stroke-dasharray="1.67 2.75"/>
<path d="M523.50,33.50 C523.17,33.92 522.58,34.77 521.50,36.00 C520.42,37.23 518.35,39.02 517.00,40.90 C515.65,42.78 514.35,45.28 513.40,47.30 C512.45,49.32 511.83,50.88 511.30,53.00 C510.77,55.12 510.55,57.53 510.20,60.00 C509.85,62.47 509.65,65.73 509.20,67.80 C508.75,69.87 508.43,70.87 507.50,72.40 C506.57,73.93 505.43,75.18 503.60,77.00 C501.77,78.82 498.50,81.53 496.50,83.30 C494.50,85.07 492.75,85.73 491.60,87.60 C490.45,89.47 490.15,92.30 489.60,94.50 C489.05,96.70 488.90,98.68 488.30,100.80 C487.70,102.92 486.98,105.38 486.00,107.20 C485.02,109.02 483.90,110.20 482.40,111.70 C480.90,113.20 479.12,114.62 477.00,116.20 C474.88,117.78 472.27,119.40 469.70,121.20 C467.13,123.00 464.15,125.12 461.60,127.00 C459.05,128.88 456.80,130.68 454.40,132.50 C452.00,134.32 449.17,136.33 447.20,137.90 C445.23,139.47 443.73,140.55 442.60,141.90 C441.47,143.25 440.95,144.65 440.40,146.00 C439.85,147.35 439.67,148.45 439.30,150.00 C438.93,151.55 438.55,153.00 438.20,155.30 C437.85,157.60 437.60,161.22 437.20,163.80 C436.80,166.38 436.50,168.45 435.80,170.80 C435.10,173.15 434.30,175.77 433.00,177.90 C431.70,180.03 430.25,181.60 428.00,183.60 C425.75,185.60 422.80,187.55 419.50,189.90 C416.20,192.25 411.25,195.47 408.20,197.70 C405.15,199.93 403.13,201.42 401.20,203.30 C399.27,205.18 397.82,207.18 396.60,209.00 C395.38,210.82 394.67,212.38 393.90,214.20 C393.13,216.02 392.35,218.02 392.00,219.90 C391.65,221.78 391.60,223.38 391.80,225.50 C392.00,227.62 392.67,230.00 393.20,232.60 C393.73,235.20 394.65,238.28 395.00,241.10 C395.35,243.92 395.37,246.68 395.30,249.50 C395.23,252.32 394.77,255.17 394.60,258.00 C394.43,260.83 394.07,263.67 394.30,266.50 C394.53,269.33 395.13,271.93 396.00,275.00 C396.87,278.07 398.32,281.85 399.50,284.90 C400.68,287.95 402.15,290.78 403.10,293.30 C404.05,295.82 404.62,297.70 405.20,300.00 C405.78,302.30 406.07,304.52 406.60,307.10 C407.13,309.68 407.52,312.57 408.40,315.50 C409.28,318.43 410.27,321.63 411.90,324.70 C413.53,327.77 415.73,330.48 418.20,333.90 C420.67,337.32 424.45,341.90 426.70,345.20 C428.95,348.50 430.05,350.40 431.70,353.70 C433.35,357.00 435.20,361.72 436.60,365.00 C438.00,368.28 438.45,370.35 440.10,373.40 C441.75,376.45 444.37,380.23 446.50,383.30 C448.63,386.37 450.73,389.18 452.90,391.80 C455.07,394.42 457.07,396.00 459.50,399.00 C461.93,402.00 465.10,406.12 467.50,409.80 C469.90,413.48 471.90,417.33 473.90,421.10 C475.90,424.87 477.62,428.40 479.50,432.40 C481.38,436.40 483.78,441.57 485.20,445.10 C486.62,448.63 487.07,450.30 488.00,453.60 C488.93,456.90 490.00,462.17 490.80,464.90 C491.60,467.63 492.10,468.02 492.80,470.00 C493.50,471.98 494.07,474.35 495.00,476.80 C495.93,479.25 497.17,482.07 498.40,484.70 C499.63,487.33 501.37,489.97 502.40,492.60 C503.43,495.23 503.75,498.05 504.60,500.50 C505.45,502.95 506.47,505.03 507.50,507.30 C508.53,509.57 509.97,512.03 510.80,514.10 C511.63,516.17 512.30,517.82 512.50,519.70 C512.70,521.58 512.47,523.42 512.00,525.40 C511.53,527.38 510.83,529.72 509.70,531.60 C508.57,533.48 507.08,534.92 505.20,536.70 C503.32,538.48 500.23,540.68 498.40,542.30 C496.57,543.92 495.73,544.88 494.20,546.40 C492.67,547.92 490.75,549.85 489.20,551.40 C487.65,552.95 485.97,554.22 484.90,555.70 C483.83,557.18 483.50,558.75 482.80,560.30 C482.10,561.85 481.62,563.65 480.70,565.00 C479.78,566.35 478.50,567.27 477.30,568.40 C476.10,569.53 474.35,570.75 473.50,571.80 C472.65,572.85 472.48,573.65 472.20,574.70 C471.92,575.75 472.50,577.27 471.80,578.10 C471.10,578.93 469.77,579.17 468.00,579.70 C466.23,580.23 463.37,580.67 461.20,581.30 C459.03,581.93 456.93,582.70 455.00,583.50 C453.07,584.30 450.72,585.22 449.60,586.10 C448.48,586.98 448.27,587.88 448.30,588.80 C448.33,589.72 449.40,590.48 449.80,591.60 C450.20,592.72 450.33,594.18 450.70,595.50 C451.07,596.82 451.22,598.13 452.00,599.50 C452.78,600.87 453.83,602.00 455.40,603.70 C456.97,605.40 459.42,607.72 461.40,609.70 C463.38,611.68 465.33,613.77 467.30,615.60 C469.27,617.43 471.37,619.22 473.20,620.70 C475.03,622.18 477.45,623.87 478.30,624.50" fill="none" stroke="#ff0000" stroke-width="2.5" stroke-linejoin="round" stroke-linecap="butt"/>
<path d="M401.80,34.50 C401.50,34.97 400.95,35.78 400.00,37.30 C399.05,38.82 397.60,41.38 396.10,43.60 C394.60,45.82 393.12,48.27 391.00,50.60 C388.88,52.93 385.93,55.37 383.40,57.60 C380.87,59.83 378.13,61.88 375.80,64.00 C373.47,66.12 371.32,68.18 369.40,70.30 C367.48,72.42 365.98,74.15 364.30,76.70 C362.62,79.25 360.98,83.05 359.30,85.60 C357.62,88.15 356.12,89.67 354.20,92.00 C352.28,94.33 349.82,97.17 347.80,99.60 C345.78,102.03 343.58,104.48 342.10,106.60 C340.62,108.72 339.43,110.28 338.90,112.30 C338.37,114.32 338.55,116.58 338.90,118.70 C339.25,120.82 339.82,122.55 341.00,125.00 C342.18,127.45 344.97,131.05 346.00,133.40 C347.03,135.75 347.42,136.67 347.20,139.10 C346.98,141.53 345.97,145.25 344.70,148.00 C343.43,150.75 341.72,153.27 339.60,155.60 C337.48,157.93 334.97,159.88 332.00,162.00 C329.03,164.12 324.88,166.08 321.80,168.30 C318.72,170.52 315.30,173.38 313.50,175.30 C311.70,177.22 311.10,178.32 311.00,179.80 C310.90,181.28 311.52,182.62 312.90,184.20 C314.28,185.78 316.75,187.50 319.30,189.30 C321.85,191.10 325.67,192.98 328.20,195.00 C330.73,197.02 332.90,199.32 334.50,201.40 C336.10,203.48 337.17,205.53 337.80,207.50 C338.43,209.47 339.13,211.08 338.30,213.20 C337.47,215.32 335.27,217.73 332.80,220.20 C330.33,222.67 326.35,225.67 323.50,228.00 C320.65,230.33 317.65,232.27 315.70,234.20 C313.75,236.13 312.32,237.67 311.80,239.60 C311.28,241.53 311.55,243.85 312.60,245.80 C313.65,247.75 316.03,249.35 318.10,251.30 C320.17,253.25 323.20,255.43 325.00,257.50 C326.80,259.57 328.25,261.63 328.90,263.70 C329.55,265.77 329.55,267.83 328.90,269.90 C328.25,271.97 326.52,273.65 325.00,276.10 C323.48,278.55 321.18,282.33 319.80,284.60 C318.42,286.87 317.42,288.02 316.70,289.70 C315.98,291.38 315.50,292.97 315.50,294.70 C315.50,296.43 315.78,298.35 316.70,300.10 C317.62,301.85 319.38,303.58 321.00,305.20 C322.62,306.82 324.60,308.32 326.40,309.80 C328.20,311.28 330.25,312.62 331.80,314.10 C333.35,315.58 334.80,317.03 335.70,318.70 C336.60,320.37 337.13,322.30 337.20,324.10 C337.27,325.90 336.45,328.22 336.10,329.50 C335.75,330.78 336.43,330.47 335.10,331.80 C333.77,333.13 330.45,335.62 328.10,337.50 C325.75,339.38 322.85,341.33 321.00,343.10 C319.15,344.87 317.67,346.45 317.00,348.10 C316.33,349.75 316.22,351.37 317.00,353.00 C317.78,354.63 320.10,356.13 321.70,357.90 C323.30,359.67 325.42,361.70 326.60,363.60 C327.78,365.50 328.80,367.65 328.80,369.30 C328.80,370.95 328.07,372.00 326.60,373.50 C325.13,375.00 322.38,376.82 320.00,378.30 C317.62,379.78 314.97,381.03 312.30,382.40 C309.63,383.77 307.10,384.87 304.00,386.50 C300.90,388.13 296.97,390.38 293.70,392.20 C290.43,394.02 287.33,395.77 284.40,397.40 C281.47,399.03 279.20,400.55 276.10,402.00 C273.00,403.45 269.23,404.63 265.80,406.10 C262.37,407.57 258.25,409.42 255.50,410.80 C252.75,412.18 250.68,413.28 249.30,414.40 C247.92,415.52 247.03,416.47 247.20,417.50 C247.37,418.53 248.40,419.65 250.30,420.60 C252.20,421.55 255.15,422.25 258.60,423.20 C262.05,424.15 267.43,425.28 271.00,426.30 C274.57,427.32 277.73,428.67 280.00,429.30 C282.27,429.93 282.67,429.65 284.60,430.10 C286.53,430.55 289.40,431.30 291.60,432.00 C293.80,432.70 295.87,433.53 297.80,434.30 C299.73,435.07 301.65,435.75 303.20,436.60 C304.75,437.45 306.13,438.42 307.10,439.40 C308.07,440.38 308.48,441.35 309.00,442.50 C309.52,443.65 309.80,444.88 310.20,446.30 C310.60,447.72 310.88,449.45 311.40,451.00 C311.92,452.55 312.47,454.18 313.30,455.60 C314.13,457.02 314.98,457.95 316.40,459.50 C317.82,461.05 320.12,463.23 321.80,464.90 C323.48,466.57 325.22,468.18 326.50,469.50 C327.78,470.82 329.00,471.80 329.50,472.80 C330.00,473.80 330.02,474.58 329.50,475.50 C328.98,476.42 327.82,477.38 326.40,478.30 C324.98,479.22 323.20,480.10 321.00,481.00 C318.80,481.90 315.78,482.93 313.20,483.70 C310.62,484.47 308.08,485.02 305.50,485.60 C302.92,486.18 300.77,486.72 297.70,487.20 C294.63,487.68 291.45,487.90 287.10,488.50 C282.75,489.10 276.77,490.07 271.60,490.80 C266.43,491.53 260.92,492.20 256.10,492.90 C251.28,493.60 246.48,494.32 242.70,495.00 C238.92,495.68 235.80,496.32 233.40,497.00 C231.00,497.68 229.15,498.40 228.30,499.10 C227.45,499.80 227.62,500.57 228.30,501.20 C228.98,501.83 230.35,502.30 232.40,502.90 C234.45,503.50 237.85,504.05 240.60,504.80 C243.35,505.55 246.65,506.55 248.90,507.40 C251.15,508.25 253.07,509.05 254.10,509.90 C255.13,510.75 255.62,511.63 255.10,512.50 C254.58,513.37 253.42,514.23 251.00,515.10 C248.58,515.97 244.05,516.93 240.60,517.70 C237.15,518.47 233.73,519.02 230.30,519.70 C226.87,520.38 223.97,521.10 220.00,521.80 C216.03,522.50 213.60,522.93 206.50,523.90 C199.40,524.87 183.48,526.88 177.40,527.60 C171.32,528.32 172.73,527.93 170.00,528.20 C167.27,528.47 164.23,528.82 161.00,529.20 C157.77,529.58 154.05,529.98 150.60,530.50 C147.15,531.02 142.78,531.73 140.30,532.30 C137.82,532.87 135.70,533.37 135.70,533.90 C135.70,534.43 137.82,534.98 140.30,535.50 C142.78,536.02 147.15,536.53 150.60,537.00 C154.05,537.47 157.77,537.90 161.00,538.30 C164.23,538.70 165.07,538.78 170.00,539.40 C174.93,540.02 183.72,541.13 190.60,542.00 C197.48,542.87 204.42,543.72 211.30,544.60 C218.18,545.48 225.45,546.52 231.90,547.30 C238.35,548.08 244.48,548.65 250.00,549.30 C255.52,549.95 258.17,550.38 265.00,551.20 C271.83,552.02 281.52,553.18 291.00,554.20 C300.48,555.22 313.73,556.33 321.90,557.30 C330.07,558.27 335.05,559.15 340.00,560.00 C344.95,560.85 347.73,561.48 351.60,562.40 C355.47,563.32 359.33,564.48 363.20,565.50 C367.07,566.52 371.70,567.60 374.80,568.50 C377.90,569.40 380.18,570.05 381.80,570.90 C383.42,571.75 384.43,572.63 384.50,573.60 C384.57,574.57 382.55,575.93 382.20,576.70 C381.85,577.47 381.68,577.68 382.40,578.20 C383.12,578.72 384.53,579.22 386.50,579.80 C388.47,580.38 391.95,581.18 394.20,581.70 C396.45,582.22 397.10,582.42 400.00,582.90 C402.90,583.38 407.95,584.07 411.60,584.60 C415.25,585.13 418.90,585.53 421.90,586.10 C424.90,586.67 427.40,586.90 429.60,588.00 C431.80,589.10 433.27,591.07 435.10,592.70 C436.93,594.33 439.33,596.38 440.60,597.80 C441.87,599.22 442.07,599.65 442.70,601.20 C443.33,602.75 443.92,605.12 444.40,607.10 C444.88,609.08 445.43,611.27 445.60,613.10 C445.77,614.93 445.63,616.17 445.40,618.10 C445.17,620.03 444.40,623.60 444.20,624.70" fill="none" stroke="#008000" stroke-width="2.5" stroke-linejoin="round" stroke-linecap="butt"/>
</g>
<path d="M90.50,36.50 H753.50 V642.50 H90.50 Z" fill="none" stroke="#000" stroke-width="1.33" stroke-linejoin="miter" stroke-linecap="square"/>
<line x1="90.50" y1="642.50" x2="90.50" y2="648.33" stroke="#000" stroke-width="1.33"/>
<line x1="164.50" y1="642.50" x2="164.50" y2="648.33" stroke="#000" stroke-width="1.33"/>
<line x1="238.50" y1="642.50" x2="238.50" y2="648.33" stroke="#000" stroke-width="1.33"/>
<line x1="311.50" y1="642.50" x2="311.50" y2="648.33" stroke="#000" stroke-width="1.33"/>
<line x1="385.50" y1="642.50" x2="385.50" y2="648.33" stroke="#000" stroke-width="1.33"/>
<line x1="459.50" y1="642.50" x2="459.50" y2="648.33" stroke="#000" stroke-width="1.33"/>
<line x1="532.50" y1="642.50" x2="532.50" y2="648.33" stroke="#000" stroke-width="1.33"/>
<line x1="606.50" y1="642.50" x2="606.50" y2="648.33" stroke="#000" stroke-width="1.33"/>
<line x1="679.50" y1="642.50" x2="679.50" y2="648.33" stroke="#000" stroke-width="1.33"/>
<line x1="753.50" y1="642.50" x2="753.50" y2="648.33" stroke="#000" stroke-width="1.33"/>
<line x1="84.67" y1="36.50" x2="90.50" y2="36.50" stroke="#000" stroke-width="1.33"/>
<line x1="84.67" y1="215.50" x2="90.50" y2="215.50" stroke="#000" stroke-width="1.33"/>
<line x1="84.67" y1="319.50" x2="90.50" y2="319.50" stroke="#000" stroke-width="1.33"/>
<line x1="84.67" y1="393.50" x2="90.50" y2="393.50" stroke="#000" stroke-width="1.33"/>
<line x1="84.67" y1="451.50" x2="90.50" y2="451.50" stroke="#000" stroke-width="1.33"/>
<line x1="84.67" y1="498.50" x2="90.50" y2="498.50" stroke="#000" stroke-width="1.33"/>
<line x1="84.67" y1="537.50" x2="90.50" y2="537.50" stroke="#000" stroke-width="1.33"/>
<line x1="84.67" y1="572.50" x2="90.50" y2="572.50" stroke="#000" stroke-width="1.33"/>
<line x1="84.67" y1="602.50" x2="90.50" y2="602.50" stroke="#000" stroke-width="1.33"/>
<line x1="84.67" y1="629.50" x2="90.50" y2="629.50" stroke="#000" stroke-width="1.33"/>
<g clip-path="url(#ax)">
<text transform="translate(222.00,440.19) rotate(-30.00) translate(0.40,4.00) scale(1.1756,1)" font-family="Liberation Sans, sans-serif" font-size="13.60" font-weight="bold" fill="#1e90ff" text-anchor="middle">0.1</text>
<text transform="translate(268.63,440.44) rotate(-30.00) translate(0.40,4.00) scale(1.1756,1)" font-family="Liberation Sans, sans-serif" font-size="13.60" font-weight="bold" fill="#1e90ff" text-anchor="middle">0.2</text>
<text transform="translate(318.97,440.25) rotate(-30.00) translate(0.40,4.00) scale(1.1756,1)" font-family="Liberation Sans, sans-serif" font-size="13.60" font-weight="bold" fill="#1e90ff" text-anchor="middle">0.4</text>
<text transform="translate(350.70,439.77) rotate(-30.00) translate(-0.40,4.00) scale(1.1756,1)" font-family="Liberation Sans, sans-serif" font-size="13.60" font-weight="bold" fill="#1e90ff" text-anchor="middle">0.6</text>
<text transform="translate(390.60,444.86) rotate(-30.00) translate(0.80,3.20) scale(1.2200,1)" font-family="Liberation Sans, sans-serif" font-size="13.60" font-weight="bold" fill="#1e90ff" text-anchor="middle">1</text>
<text transform="translate(424.13,440.76) rotate(-30.00) translate(0.40,4.00) scale(1.1756,1)" font-family="Liberation Sans, sans-serif" font-size="13.60" font-weight="bold" fill="#1e90ff" text-anchor="middle">1.5</text>
<text transform="translate(449.13,444.70) rotate(-30.00) translate(0.00,3.20) scale(1.0031,1)" font-family="Liberation Sans, sans-serif" font-size="13.60" font-weight="bold" fill="#1e90ff" text-anchor="middle">2</text>
<text transform="translate(485.52,444.28) rotate(-30.00) translate(0.40,3.20) scale(1.0980,1)" font-family="Liberation Sans, sans-serif" font-size="13.60" font-weight="bold" fill="#1e90ff" text-anchor="middle">3</text>
<text transform="translate(512.76,444.13) rotate(-30.00) translate(0.00,3.20) scale(1.2200,1)" font-family="Liberation Sans, sans-serif" font-size="13.60" font-weight="bold" fill="#1e90ff" text-anchor="middle">4</text>
<text transform="translate(551.41,444.27) rotate(-30.00) translate(0.80,3.20) scale(1.2386,1)" font-family="Liberation Sans, sans-serif" font-size="13.60" font-weight="bold" fill="#1e90ff" text-anchor="middle">6</text>
<text transform="translate(578.96,444.60) rotate(-30.00) translate(1.20,3.20) scale(1.1116,1)" font-family="Liberation Sans, sans-serif" font-size="13.60" font-weight="bold" fill="#1e90ff" text-anchor="middle">8</text>
<text transform="translate(602.53,442.53) rotate(-30.00) translate(0.40,3.20) scale(1.1626,1)" font-family="Liberation Sans, sans-serif" font-size="13.60" font-weight="bold" fill="#1e90ff" text-anchor="middle">10</text>
<text transform="translate(630.04,442.32) rotate(-30.00) translate(-0.40,3.20) scale(1.1626,1)" font-family="Liberation Sans, sans-serif" font-size="13.60" font-weight="bold" fill="#1e90ff" text-anchor="middle">13</text>
<text transform="translate(652.15,442.27) rotate(-30.00) translate(-0.40,3.20) scale(1.1626,1)" font-family="Liberation Sans, sans-serif" font-size="13.60" font-weight="bold" fill="#1e90ff" text-anchor="middle">16</text>
<text transform="translate(676.09,442.28) rotate(-30.00) translate(0.40,3.20) scale(1.1658,1)" font-family="Liberation Sans, sans-serif" font-size="13.60" font-weight="bold" fill="#1e90ff" text-anchor="middle">20</text>
<text transform="translate(700.92,442.43) rotate(-30.00) translate(0.40,3.20) scale(1.1658,1)" font-family="Liberation Sans, sans-serif" font-size="13.60" font-weight="bold" fill="#1e90ff" text-anchor="middle">25</text>
<text transform="translate(721.37,442.16) rotate(-30.00) translate(0.40,3.20) scale(1.1626,1)" font-family="Liberation Sans, sans-serif" font-size="13.60" font-weight="bold" fill="#1e90ff" text-anchor="middle">30</text>
<text transform="translate(742.08,442.45) rotate(-30.00) translate(0.80,3.20) scale(1.1079,1)" font-family="Liberation Sans, sans-serif" font-size="13.60" font-weight="bold" fill="#1e90ff" text-anchor="middle">36</text>
<text transform="translate(237.20,55.01) rotate(-45.00) translate(0.40,3.20) scale(1.1907,1)" font-family="Liberation Sans, sans-serif" font-size="13.60" font-weight="bold" fill="#1f77b4" text-anchor="middle">-100</text>
<text transform="translate(260.00,105.13) rotate(-45.00) translate(0.40,3.20) scale(1.1776,1)" font-family="Liberation Sans, sans-serif" font-size="13.60" font-weight="bold" fill="#1f77b4" text-anchor="middle">-90</text>
<text transform="translate(284.74,153.12) rotate(-45.00) translate(1.20,4.00) scale(1.1776,1)" font-family="Liberation Sans, sans-serif" font-size="13.60" font-weight="bold" fill="#1f77b4" text-anchor="middle">-80</text>
<text transform="translate(313.97,199.11) rotate(-45.00) translate(0.40,3.20) scale(1.1776,1)" font-family="Liberation Sans, sans-serif" font-size="13.60" font-weight="bold" fill="#1f77b4" text-anchor="middle">-70</text>
<text transform="translate(343.44,241.54) rotate(-45.00) translate(0.40,4.00) scale(1.1776,1)" font-family="Liberation Sans, sans-serif" font-size="13.60" font-weight="bold" fill="#1f77b4" text-anchor="middle">-60</text>
<text transform="translate(375.98,284.09) rotate(-45.00) translate(0.40,3.20) scale(1.1776,1)" font-family="Liberation Sans, sans-serif" font-size="13.60" font-weight="bold" fill="#1f77b4" text-anchor="middle">-50</text>
<text transform="translate(409.56,323.28) rotate(-45.00) translate(1.20,4.00) scale(1.1776,1)" font-family="Liberation Sans, sans-serif" font-size="13.60" font-weight="bold" fill="#1f77b4" text-anchor="middle">-40</text>
<text transform="translate(446.08,361.17) rotate(-45.00) translate(0.40,3.20) scale(1.1776,1)" font-family="Liberation Sans, sans-serif" font-size="13.60" font-weight="bold" fill="#1f77b4" text-anchor="middle">-30</text>
<text transform="translate(482.89,397.06) rotate(-45.00) translate(1.20,4.00) scale(1.1776,1)" font-family="Liberation Sans, sans-serif" font-size="13.60" font-weight="bold" fill="#1f77b4" text-anchor="middle">-20</text>
<text transform="translate(521.42,431.50) rotate(-45.00) translate(0.40,4.00) scale(1.1776,1)" font-family="Liberation Sans, sans-serif" font-size="13.60" font-weight="bold" fill="#1f77b4" text-anchor="middle">-10</text>
<text transform="translate(562.91,466.28) rotate(-45.00) translate(0.80,3.20) scale(1.2200,1)" font-family="Liberation Sans, sans-serif" font-size="13.60" font-weight="bold" fill="#808080" text-anchor="middle">0</text>
<text transform="translate(604.00,498.23) rotate(-45.00) translate(-0.40,3.20) scale(1.1626,1)" font-family="Liberation Sans, sans-serif" font-size="13.60" font-weight="bold" fill="#d62728" text-anchor="middle">10</text>
<text transform="translate(646.31,530.04) rotate(-45.00) translate(0.00,3.20) scale(1.2200,1)" font-family="Liberation Sans, sans-serif" font-size="13.60" font-weight="bold" fill="#d62728" text-anchor="middle">20</text>
<text transform="translate(690.49,559.60) rotate(-45.00) translate(0.00,3.20) scale(1.1157,1)" font-family="Liberation Sans, sans-serif" font-size="13.60" font-weight="bold" fill="#d62728" text-anchor="middle">30</text>
<text transform="translate(734.00,587.95) rotate(-45.00) translate(-0.40,4.00) scale(1.1658,1)" font-family="Liberation Sans, sans-serif" font-size="13.60" font-weight="bold" fill="#d62728" text-anchor="middle">40</text>
<text transform="translate(759.58,441.98) rotate(-30.00) translate(-0.40,3.20) scale(1.1658,1)" font-family="Liberation Sans, sans-serif" font-size="13.60" font-weight="bold" fill="#1e90ff" text-anchor="middle">42</text>
</g>
<text transform="translate(90.51,663.04) rotate(0.00) translate(0.80,5.60) scale(1.0735,1)" font-family="Liberation Sans, sans-serif" font-size="18.13" fill="#000000" stroke="#000000" stroke-width="0.05" text-anchor="middle">−40</text>
<text transform="translate(164.40,662.84) rotate(0.00) translate(0.40,5.60) scale(1.0467,1)" font-family="Liberation Sans, sans-serif" font-size="18.13" fill="#000000" stroke="#000000" stroke-width="0.05" text-anchor="middle">−30</text>
<text transform="translate(237.69,662.05) rotate(0.00) translate(0.80,5.60) scale(1.0749,1)" font-family="Liberation Sans, sans-serif" font-size="18.13" fill="#000000" stroke="#000000" stroke-width="0.05" text-anchor="middle">−20</text>
<text transform="translate(311.31,662.68) rotate(0.00) translate(1.20,5.60) scale(1.0467,1)" font-family="Liberation Sans, sans-serif" font-size="18.13" fill="#000000" stroke="#000000" stroke-width="0.05" text-anchor="middle">−10</text>
<text transform="translate(384.79,662.72) rotate(0.00) translate(0.40,5.60) scale(0.9887,1)" font-family="Liberation Sans, sans-serif" font-size="18.13" fill="#000000" stroke="#000000" stroke-width="0.05" text-anchor="middle">0</text>
<text transform="translate(458.85,662.17) rotate(0.00) translate(0.40,5.60) scale(0.9405,1)" font-family="Liberation Sans, sans-serif" font-size="18.13" fill="#000000" stroke="#000000" stroke-width="0.05" text-anchor="middle">10</text>
<text transform="translate(532.73,662.61) rotate(0.00) translate(-0.40,5.60) scale(0.9471,1)" font-family="Liberation Sans, sans-serif" font-size="18.13" fill="#000000" stroke="#000000" stroke-width="0.05" text-anchor="middle">20</text>
<text transform="translate(606.56,662.35) rotate(0.00) translate(0.00,5.60) scale(0.9917,1)" font-family="Liberation Sans, sans-serif" font-size="18.13" fill="#000000" stroke="#000000" stroke-width="0.05" text-anchor="middle">30</text>
<text transform="translate(679.57,662.63) rotate(0.00) translate(0.40,5.60) scale(0.9471,1)" font-family="Liberation Sans, sans-serif" font-size="18.13" fill="#000000" stroke="#000000" stroke-width="0.05" text-anchor="middle">40</text>
<text transform="translate(753.92,662.51) rotate(0.00) translate(-0.40,5.60) scale(0.9471,1)" font-family="Liberation Sans, sans-serif" font-size="18.13" fill="#000000" stroke="#000000" stroke-width="0.05" text-anchor="middle">50</text>
<text transform="translate(62.66,37.71) rotate(0.00) translate(0.80,4.80) scale(0.9641,1)" font-family="Liberation Sans, sans-serif" font-size="18.13" fill="#000000" stroke="#000000" stroke-width="0.07" text-anchor="middle">100</text>
<text transform="translate(63.10,216.63) rotate(0.00) translate(-0.40,5.60) scale(0.9917,1)" font-family="Liberation Sans, sans-serif" font-size="18.13" fill="#000000" stroke="#000000" stroke-width="0.07" text-anchor="middle">200</text>
<text transform="translate(63.27,320.95) rotate(0.00) translate(-0.40,4.80) scale(0.9917,1)" font-family="Liberation Sans, sans-serif" font-size="18.13" fill="#000000" stroke="#000000" stroke-width="0.07" text-anchor="middle">300</text>
<text transform="translate(62.68,395.29) rotate(0.00) translate(0.40,4.80) scale(0.9940,1)" font-family="Liberation Sans, sans-serif" font-size="18.13" fill="#000000" stroke="#000000" stroke-width="0.07" text-anchor="middle">400</text>
<text transform="translate(63.15,452.71) rotate(0.00) translate(-0.40,4.80) scale(0.9917,1)" font-family="Liberation Sans, sans-serif" font-size="18.13" fill="#000000" stroke="#000000" stroke-width="0.07" text-anchor="middle">500</text>
<text transform="translate(62.53,500.68) rotate(0.00) translate(-0.40,4.80) scale(0.9917,1)" font-family="Liberation Sans, sans-serif" font-size="18.13" fill="#000000" stroke="#000000" stroke-width="0.07" text-anchor="middle">600</text>
<text transform="translate(62.79,539.79) rotate(0.00) translate(0.40,4.80) scale(0.9917,1)" font-family="Liberation Sans, sans-serif" font-size="18.13" fill="#000000" stroke="#000000" stroke-width="0.07" text-anchor="middle">700</text>
<text transform="translate(62.79,573.96) rotate(0.00) translate(-0.40,4.80) scale(0.9917,1)" font-family="Liberation Sans, sans-serif" font-size="18.13" fill="#000000" stroke="#000000" stroke-width="0.07" text-anchor="middle">800</text>
<text transform="translate(63.27,604.18) rotate(0.00) translate(-0.40,4.80) scale(1.0462,1)" font-family="Liberation Sans, sans-serif" font-size="18.13" fill="#000000" stroke="#000000" stroke-width="0.07" text-anchor="middle">900</text>
<text transform="translate(57.62,631.21) rotate(0.00) translate(0.00,4.80) scale(0.9907,1)" font-family="Liberation Sans, sans-serif" font-size="18.13" fill="#000000" stroke="#000000" stroke-width="0.07" text-anchor="middle">1000</text>
<text transform="translate(420.23,21.27) rotate(0.00) translate(0.40,6.00) scale(1.0322,1)" font-family="Liberation Sans, sans-serif" font-size="21.26" fill="#1b1b1b" text-anchor="middle">wetPf2_C2E1.2025.303.17.28.E07</text>
<text transform="translate(419.67,689.18) rotate(0.00) translate(-0.40,4.40) scale(0.9576,1)" font-family="Liberation Sans, sans-serif" font-size="19.74" fill="#1d1d1d" text-anchor="middle">Temperature (°C)</text>
<text transform="translate(22.35,339.13) rotate(-90.00) translate(-1.60,2.80) scale(1.0186,1)" font-family="Liberation Sans, sans-serif" font-size="17.65" fill="#090909" text-anchor="middle">Pressure (hPa)</text>
</svg>
</body></html>
